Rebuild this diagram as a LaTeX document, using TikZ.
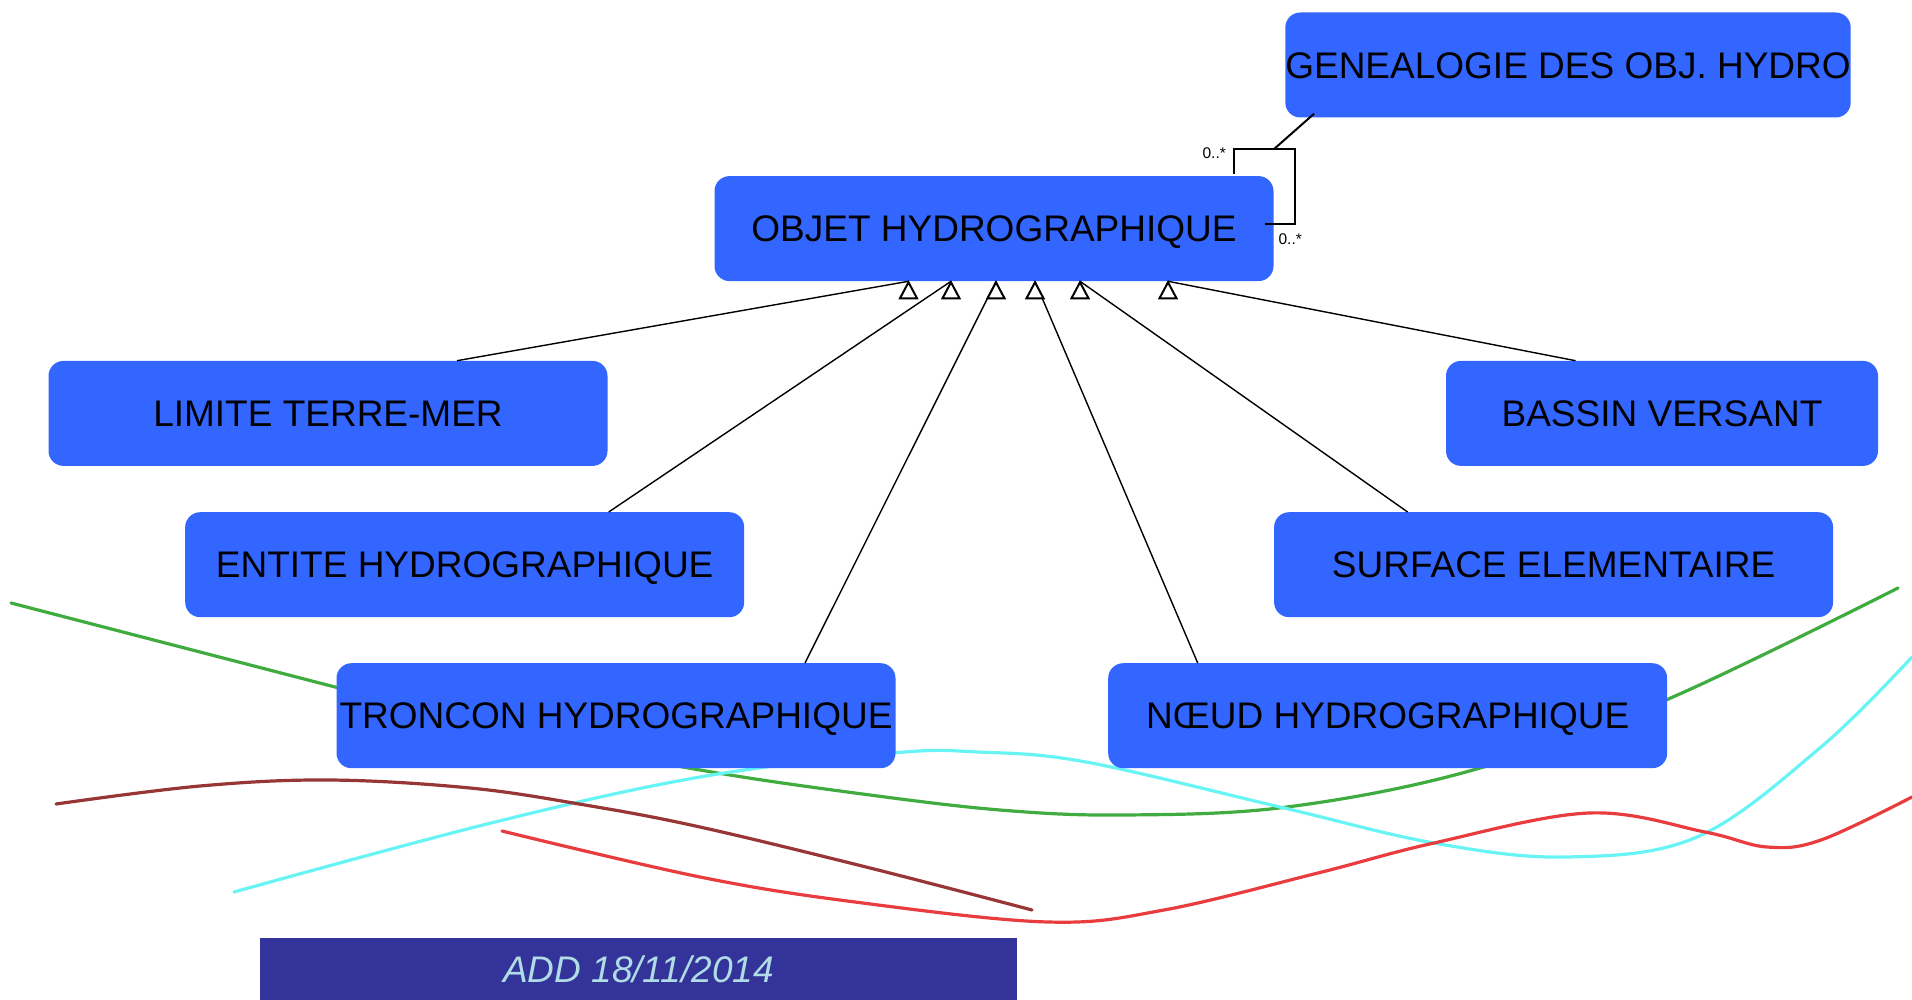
\documentclass[tikz,border=0pt]{standalone}
\usepackage{fontspec}
\setmainfont{Liberation Sans}
\usetikzlibrary{calc}
\definecolor{boxblue}{HTML}{3366FF}
\definecolor{stampblue}{HTML}{333399}
\definecolor{stamptext}{HTML}{B0DCE6}
\definecolor{wgreen}{RGB}{64,172,64}
\definecolor{wcyan}{RGB}{104,244,244}
\definecolor{wdarkred}{RGB}{152,54,54}
\definecolor{wred}{RGB}{232,60,62}
\begin{document}
\begin{tikzpicture}[x=1pt,y=-1pt,
  cls/.style={fill=boxblue, rounded corners=15pt, minimum width=559pt,
    minimum height=105pt, inner sep=0pt, text=black,
    text height=26.5pt, text depth=0pt,
    font=\fontsize{37}{44}\selectfont},
  gen/.style={line width=1.4pt, black},
  tri/.style={line width=2pt, black, fill=white, line join=miter},
  assoc/.style={line width=2pt, black},
  mult/.style={font=\fontsize{15.5}{18}\selectfont, inner sep=0pt},
  wave/.style={line width=3.2pt, line cap=round},
  stampbox/.style={fill=stampblue, minimum width=757pt, minimum height=62pt,
    inner sep=0pt, text=stamptext, text height=26.5pt, text depth=0pt,
    font=\fontsize{37}{44}\selectfont\itshape}]
\useasboundingbox (0,0) rectangle (1912,1000);

% decorative flowing lines, behind the class boxes
\draw[wave, wgreen] plot[smooth, tension=0.6] coordinates {
  (11,603) (335,687) (520,735) (700,770) (855,793) (1000,810) (1125,815)
  (1287,807) (1473,770) (1666,700) (1898,588)};
\draw[wave, wcyan] plot[smooth, tension=0.6] coordinates {
  (234,892) (491,823) (700,777) (893,753) (978,752) (1086,762) (1280,807)
  (1434,843) (1566,857) (1697,837) (1821,747) (1912,657)};
\draw[wave, wdarkred] plot[smooth, tension=0.6] coordinates {
  (56,804) (200,786) (329,780) (470,788) (585,805) (700,827) (870,868) (1032,910)};
\draw[wave, wred] plot[smooth, tension=0.6] coordinates {
  (502,831) (700,877) (855,902) (1048,922) (1164,910) (1318,873) (1434,843)
  (1589,813) (1705,832) (1767,847) (1821,840) (1912,797)};

% classes
\node[cls] (genealogie) at (1568,65) {GENEALOGIE DES OBJ. HYDRO};
\node[cls] (objet) at (994,228.6) {OBJET HYDROGRAPHIQUE};
\node[cls] (limite) at (328,413.4) {LIMITE TERRE-MER};
\node[cls, minimum width=432pt] (bassin) at (1662,413.4) {BASSIN VERSANT};
\node[cls] (entite) at (464.7,564.7) {ENTITE HYDROGRAPHIQUE};
\node[cls] (surface) at (1553.6,564.7) {SURFACE ELEMENTAIRE};
\node[cls] (troncon) at (616,715.7) {TRONCON HYDROGRAPHIQUE};
\node[cls] (noeud) at (1387.7,715.7) {N\OE UD HYDROGRAPHIQUE};

% footer stamp
\node[stampbox] (stamp) at (638.5,969) {ADD 18/11/2014};

% generalization targets along the bottom of the parent class
\coordinate (t1) at ($(objet.south)+(-85.5,0)$);
\coordinate (t2) at ($(objet.south)+(-43,0)$);
\coordinate (t3) at ($(objet.south)+(2,0)$);
\coordinate (t4) at ($(objet.south)+(41,0)$);
\coordinate (t5) at ($(objet.south)+(86,0)$);
\coordinate (t6) at ($(objet.south)+(174,0)$);

\draw[gen] ($(limite.north)+(129,0)$) -- (t1);
\draw[gen] ($(entite.north)+(144,0)$) -- (t2);
\draw[gen] ($(troncon.north)+(189,0)$) -- (t3);
\draw[gen] ($(noeud.north)+(-190,0)$) -- (t4);
\draw[gen] ($(surface.north)+(-146,0)$) -- (t5);
\draw[gen] ($(bassin.north)+(-86.5,0)$) -- (t6);

\foreach \t in {t1,t2,t3,t4,t5,t6}
  \draw[tri] ($(\t)+(0,1)$) -- ++(-8.5,16) -- ++(17,0) -- cycle;

% reflexive genealogy association
\coordinate (a1) at ($(objet.north east)+(-39.5,-2)$);
\coordinate (a2) at ($(objet.east)+(21.5,-4.6)$);
\coordinate (a3) at ($(objet.east)+(-8.5,-4.6)$);
\coordinate (ajoin) at ($(objet.north east)+(0.5,-27)$);
\draw[assoc] (a1) -- ++(0,-25) -| (a2) -- (a3);
\draw[assoc] ($(genealogie.south west)+(29,-4)$) -- (ajoin);
\node[mult] (m1) at ($(objet.north east)+(-59.5,-22.5)$) {0..*};
\node[mult] (m2) at ($(objet.east)+(16.5,10.4)$) {0..*};
\end{tikzpicture}
\end{document}
